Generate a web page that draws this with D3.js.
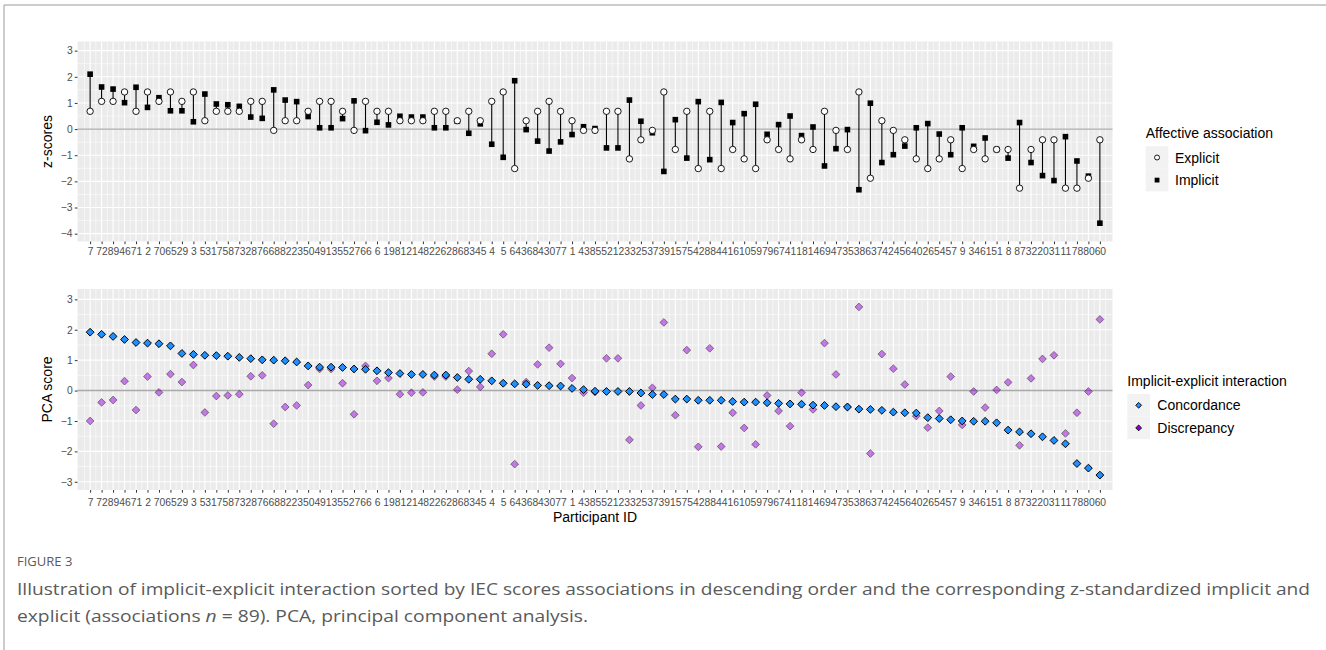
<!DOCTYPE html>
<html>
<head>
<meta charset="utf-8">
<script src="https://cdn.jsdelivr.net/npm/d3@7"></script>
<style>
  body { margin: 0; background: #ffffff; }
  svg text { font-family: "Liberation Sans", Arial, Helvetica, sans-serif; }
</style>
</head>
<body>
<svg id="chart" width="1326" height="650"></svg>
<script>
// Participants, ordered by concordance score (descending)
const participantIds = [7,72,89,46,71,2,70,65,29,3,53,17,58,73,28,76,68,82,23,50,
  49,13,55,27,66,6,19,81,21,48,22,62,86,83,45,4,5,64,36,84,
  30,77,1,43,85,52,12,33,25,37,39,15,75,42,88,44,16,10,59,79,
  67,41,18,14,69,47,35,38,63,74,24,56,40,26,54,57,9,34,61,51,
  8,87,32,20,31,11,78,80,60];

// z-standardized explicit association
const explicitZ = [0.68,1.06,1.06,1.42,0.68,1.42,1.06,1.42,1.06,1.42,
  0.32,0.68,0.68,0.68,1.06,1.06,-0.05,0.32,0.32,0.68,
  1.06,1.06,0.68,-0.05,1.06,0.68,0.68,0.32,0.32,0.32,
  0.68,0.68,0.32,0.68,0.32,1.06,1.42,-1.51,0.32,0.68,
  1.06,0.68,0.32,-0.05,-0.05,0.68,0.68,-1.14,-0.41,-0.05,
  1.42,-0.78,0.68,-1.51,0.68,-1.51,-0.78,-1.14,-1.51,-0.41,
  -0.78,-1.14,-0.41,-0.78,0.68,-0.05,-0.78,1.42,-1.88,0.32,
  -0.05,-0.41,-1.14,-1.51,-1.14,-0.41,-1.51,-0.78,-1.14,-0.78,
  -0.78,-2.26,-0.78,-0.41,-0.41,-2.26,-2.26,-1.88,-0.41];

// z-standardized implicit association
const implicitZ = [2.10,1.61,1.53,1.01,1.60,0.83,1.20,0.70,0.70,0.28,
  1.34,0.96,0.93,0.87,0.46,0.41,1.50,1.11,1.05,0.48,
  0.05,0.05,0.40,1.08,-0.06,0.26,0.16,0.49,0.46,0.46,
  0.05,0.05,0.30,-0.16,0.20,-0.58,-1.08,1.85,-0.02,-0.46,
  -0.84,-0.49,-0.21,0.09,0.02,-0.72,-0.72,1.11,0.30,-0.14,
  -1.62,0.36,-1.11,1.05,-1.17,1.02,0.25,0.59,0.95,-0.20,
  0.17,0.50,-0.25,0.08,-1.41,-0.75,-0.02,-2.32,0.99,-1.28,
  -0.98,-0.65,0.05,0.21,-0.19,-0.98,0.05,-0.66,-0.34,-0.78,
  -1.11,0.25,-1.28,-1.78,-1.97,-0.29,-1.22,-1.80,-3.60];

// PCA scores
const concordance = [1.92,1.85,1.78,1.68,1.58,1.56,1.54,1.47,1.22,1.19,
  1.16,1.15,1.13,1.09,1.05,1.01,1.00,0.98,0.94,0.81,
  0.77,0.77,0.76,0.71,0.70,0.65,0.59,0.56,0.53,0.53,
  0.51,0.51,0.43,0.37,0.37,0.32,0.24,0.22,0.21,0.17,
  0.16,0.15,0.07,0.03,-0.02,-0.03,-0.03,-0.03,-0.08,-0.13,
  -0.13,-0.28,-0.28,-0.32,-0.32,-0.32,-0.36,-0.38,-0.38,-0.40,
  -0.42,-0.44,-0.45,-0.48,-0.49,-0.53,-0.54,-0.61,-0.62,-0.65,
  -0.71,-0.73,-0.74,-0.89,-0.92,-0.96,-1.00,-1.01,-1.01,-1.06,
  -1.30,-1.36,-1.42,-1.52,-1.64,-1.75,-2.40,-2.55,-2.78];

const discrepancy = [-1.00,-0.39,-0.31,0.31,-0.64,0.46,-0.06,0.54,0.28,0.84,
  -0.72,-0.18,-0.16,-0.12,0.47,0.50,-1.09,-0.54,-0.49,0.18,
  0.71,0.71,0.24,-0.78,0.81,0.32,0.41,-0.12,-0.07,-0.06,
  0.46,0.46,0.03,0.64,0.12,1.21,1.85,-2.42,0.28,0.86,
  1.41,0.88,0.41,-0.07,-0.05,1.06,1.06,-1.62,-0.49,0.09,
  2.24,-0.81,1.33,-1.85,1.39,-1.84,-0.73,-1.23,-1.77,-0.16,
  -0.67,-1.17,-0.07,-0.62,1.56,0.53,-0.54,2.75,-2.07,1.20,
  0.72,0.20,-0.84,-1.22,-0.67,0.46,-1.13,-0.03,-0.56,0.02,
  0.27,-1.80,0.40,1.04,1.16,-1.41,-0.73,-0.03,2.34];

const zTicks = [-4,-3,-2,-1,0,1,2,3];
const pcaTicks = [-3,-2,-1,0,1,2,3];
const affectiveLegend = ["Explicit", "Implicit"];
const interactionLegend = ["Concordance", "Discrepancy"];

const rows = participantIds.map((id, i) => ({
  id: String(id), explicit: explicitZ[i], implicit: implicitZ[i],
  conc: concordance[i], disc: discrepancy[i]
}));

const svg = d3.select("#chart");
const panelLeft = 77.5, panelRight = 1112.5;

const x = d3.scalePoint()
  .domain(rows.map(d => d.id))
  .range([panelLeft, panelRight])
  .padding(1.1);
const step = x.step();

const yTop = d3.scaleLinear().domain([-4.3, 3.35]).range([241.5, 41.5]);
const yBot = d3.scaleLinear().domain([-3.27, 3.34]).range([490, 289]);

const fmt = d => d < 0 ? "\u2212" + Math.abs(d) : String(d);

function drawPanel(y, ticks, labelPad) {
  const [y0, y1] = y.range(); // bottom, top
  const g = svg.append("g");
  g.append("rect").attr("x", panelLeft).attr("y", y1)
    .attr("width", panelRight - panelLeft).attr("height", y0 - y1)
    .attr("fill", "#ebebeb");

  // minor grid
  const dom = y.domain();
  const minorY = d3.range(Math.ceil(dom[0] * 2) / 2, dom[1], 0.5).filter(v => !Number.isInteger(v));
  g.selectAll(".hmin").data(minorY).join("line")
    .attr("x1", panelLeft).attr("x2", panelRight)
    .attr("y1", d => y(d)).attr("y2", d => y(d))
    .attr("stroke", "#ffffff").attr("stroke-width", 0.55);
  const ids = x.domain();
  const minorX = d3.range(ids.length + 1).map(i => x(ids[0]) + (i - 0.5) * step);
  g.selectAll(".vmin").data(minorX).join("line")
    .attr("x1", d => d).attr("x2", d => d)
    .attr("y1", y1).attr("y2", y0)
    .attr("stroke", "#ffffff").attr("stroke-width", 0.55);

  // major grid
  g.selectAll(".hmaj").data(ticks).join("line")
    .attr("x1", panelLeft).attr("x2", panelRight)
    .attr("y1", d => y(d)).attr("y2", d => y(d))
    .attr("stroke", "#ffffff").attr("stroke-width", 1.1);
  g.selectAll(".vmaj").data(ids).join("line")
    .attr("x1", d => x(d)).attr("x2", d => x(d))
    .attr("y1", y1).attr("y2", y0)
    .attr("stroke", "#ffffff").attr("stroke-width", 1.1);

  // zero reference
  g.append("line").attr("x1", panelLeft).attr("x2", panelRight)
    .attr("y1", y(0)).attr("y2", y(0))
    .attr("stroke", "#a9a9a9").attr("stroke-width", 1.4);

  // axes
  const ax = svg.append("g").attr("transform", `translate(${panelLeft},0)`)
    .call(d3.axisLeft(y).tickValues(ticks).tickSize(2.7).tickPadding(2.2).tickFormat(fmt));
  const bx = svg.append("g").attr("transform", `translate(0,${y0})`)
    .call(d3.axisBottom(x).tickSize(2.7).tickPadding(labelPad));
  [ax, bx].forEach(a => {
    a.select(".domain").remove();
    a.selectAll(".tick line").attr("stroke", "#333333").attr("stroke-width", 1);
    a.selectAll(".tick text").attr("fill", "#4d4d4d")
      .style("font-size", "10.3px")
      .style("font-family", '"Liberation Sans", Arial, sans-serif');
  });
  return g;
}

// ---- upper panel: implicit vs explicit z-scores
const zPanel = drawPanel(yTop, zTicks, 3.6);
zPanel.selectAll(".seg").data(rows).join("line")
  .attr("x1", d => x(d.id)).attr("x2", d => x(d.id))
  .attr("y1", d => yTop(d.explicit)).attr("y2", d => yTop(d.implicit))
  .attr("stroke", "#000").attr("stroke-width", 1.1);
const sq = 5.6;
zPanel.selectAll(".imp").data(rows).join("rect")
  .attr("x", d => x(d.id) - sq / 2).attr("y", d => yTop(d.implicit) - sq / 2)
  .attr("width", sq).attr("height", sq).attr("fill", "#000");
zPanel.selectAll(".exp").data(rows).join("circle")
  .attr("cx", d => x(d.id)).attr("cy", d => yTop(d.explicit)).attr("r", 3.2)
  .attr("fill", "#fff").attr("stroke", "#000").attr("stroke-width", 0.9);

// ---- lower panel: PCA scores
const pcaPanel = drawPanel(yBot, pcaTicks, 6.2);
const diamond = h => `M0,${-h}L${h},0L0,${h}L${-h},0Z`;
pcaPanel.selectAll(".disc").data(rows).join("path")
  .attr("d", diamond(3.9))
  .attr("transform", d => `translate(${x(d.id)},${yBot(d.disc)})`)
  .attr("fill", "#9400d3").attr("fill-opacity", 0.5)
  .attr("stroke", "#000").attr("stroke-opacity", 0.45).attr("stroke-width", 0.9);
pcaPanel.selectAll(".conc").data(rows).join("path")
  .attr("d", diamond(3.9))
  .attr("transform", d => `translate(${x(d.id)},${yBot(d.conc)})`)
  .attr("fill", "#1e90ff").attr("stroke", "#000").attr("stroke-width", 1);

// axis titles
svg.append("text").attr("transform", `translate(52,${(yTop.range()[0] + yTop.range()[1]) / 2}) rotate(-90)`)
  .attr("text-anchor", "middle").style("font-size", "14px").attr("fill", "#000").text("z-scores");
svg.append("text").attr("transform", `translate(52,${(yBot.range()[0] + yBot.range()[1]) / 2}) rotate(-90)`)
  .attr("text-anchor", "middle").style("font-size", "14px").attr("fill", "#000").text("PCA score");
svg.append("text").attr("x", (panelLeft + panelRight) / 2).attr("y", 522)
  .attr("text-anchor", "middle").style("font-size", "14px").attr("fill", "#000").text("Participant ID");

// ---- legends
function legend(x0, titleY, keyTop, title, labels, drawKey, labelX) {
  const g = svg.append("g");
  g.append("text").attr("x", x0).attr("y", titleY).style("font-size", "14px").text(title);
  labels.forEach((lab, i) => {
    const ky = keyTop + i * 22.6;
    g.append("rect").attr("x", x0).attr("y", ky).attr("width", 22.7).attr("height", 22.6).attr("fill", "#f2f2f2");
    drawKey(g, x0 + 11.35, ky + 11.3, i);
    g.append("text").attr("x", labelX).attr("y", ky + 16.3).style("font-size", "14px").text(lab);
  });
}
legend(1145.7, 137.5, 146.2, "Affective association", affectiveLegend, (g, cx, cy, i) => {
  if (i === 0) g.append("circle").attr("cx", cx).attr("cy", cy).attr("r", 2.5)
    .attr("fill", "#fff").attr("stroke", "#000").attr("stroke-width", 0.9);
  else g.append("rect").attr("x", cx - 2.4).attr("y", cy - 2.4).attr("width", 4.8).attr("height", 4.8).attr("fill", "#000");
}, 1175);
legend(1127.3, 385.5, 394, "Implicit-explicit interaction", interactionLegend, (g, cx, cy, i) => {
  g.append("path").attr("d", diamond(2.9)).attr("transform", `translate(${cx},${cy})`)
    .attr("fill", i === 0 ? "#1e90ff" : "#9400d3").attr("stroke", "#000").attr("stroke-width", 0.9);
}, 1157.3);

// ---- figure frame and caption
svg.append("path").attr("d", "M4,650V5H1326").attr("fill", "none")
  .attr("stroke", "#9a9a9a").attr("stroke-width", 1);
const cap = svg.append("g").attr("fill", "#5a5a5a");
cap.append("text").attr("x", 17).attr("y", 566).style("font-size", "13px")
  .style("font-family", '"Open Sans", sans-serif').text("FIGURE 3");
cap.append("text").attr("x", 17).attr("y", 595).style("font-size", "16.5px")
  .style("font-family", '"Open Sans", sans-serif')
  .attr("textLength", 1293).attr("lengthAdjust", "spacingAndGlyphs")
  .text("Illustration of implicit-explicit interaction sorted by IEC scores associations in descending order and the corresponding z-standardized implicit and");
const l2 = cap.append("text").attr("x", 17).attr("y", 622).style("font-size", "16.5px")
  .style("font-family", '"Open Sans", sans-serif')
  .attr("textLength", 571).attr("lengthAdjust", "spacingAndGlyphs");
l2.append("tspan").text("explicit (associations ");
l2.append("tspan").style("font-style", "italic").text("n");
l2.append("tspan").text(" = 89). PCA, principal component analysis.");
</script>
</body>
</html>
